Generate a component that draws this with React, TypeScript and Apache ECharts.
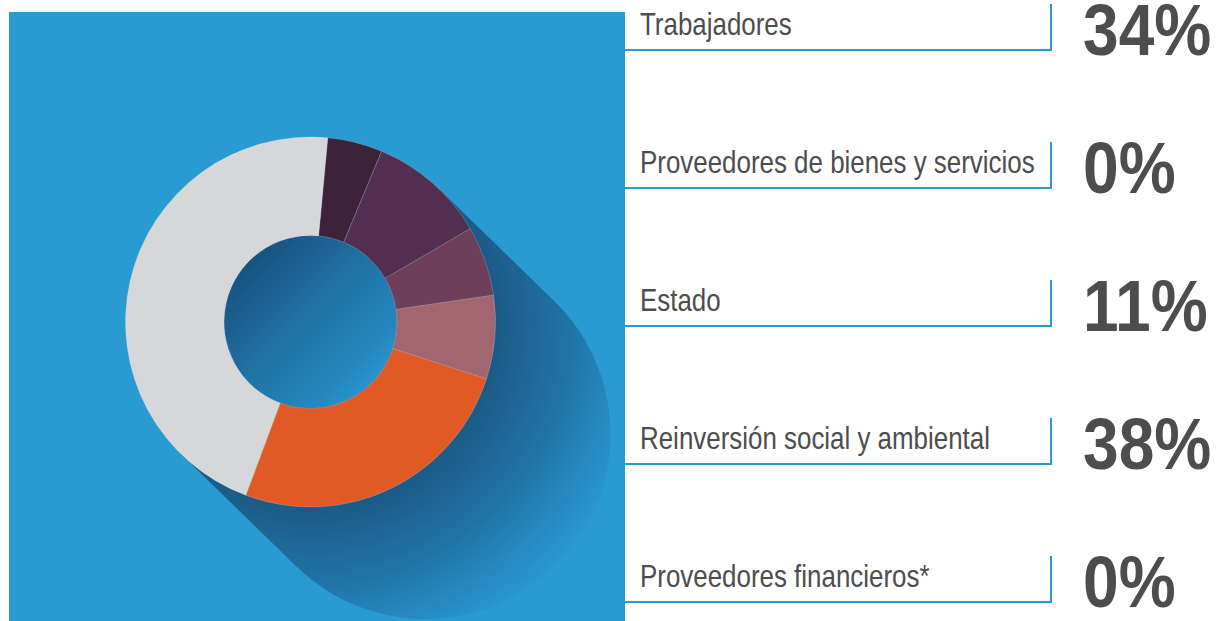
import React, { useEffect, useRef } from "react";
import * as echarts from "echarts";

// ---- Data ----
const sliceNames = ["Segmento A", "Segmento B", "Segmento C", "Segmento D", "Segmento E", "Segmento F"];
const sliceValues = [4.8, 10.3, 6.1, 7.3, 25.7, 45.8];
const sliceColors = ["#3d2339", "#522f51", "#6d3f5a", "#a16670", "#e05a25", "#d6d7d9"];

const legendLabels = [
  "Trabajadores",
  "Proveedores de bienes y servicios",
  "Estado",
  "Reinversión social y ambiental",
  "Proveedores financieros*",
];
const legendPercents = [34, 0, 11, 38, 0];

// ---- Layout / style ----
const W = 1218;
const H = 621;
const BLUE = "#2a9ad3";
const CX = 310.5;
const CY = 322;
const R_OUT = 185;
const R_IN = 86.5;
const SH_DX = 115;
const SH_DY = 112;
const LABEL_FONT = '"Liberation Sans", Arial, Helvetica, sans-serif';
const TEXT_COLOR = "#4d4d4d";

export default function App() {
  const ref = useRef<HTMLDivElement>(null);

  useEffect(() => {
    if (!ref.current) return;
    const chart = echarts.init(ref.current, null, { renderer: "svg" });

    // shadow geometry
    const len = Math.hypot(SH_DX, SH_DY);
    const px = SH_DY / len;
    const py = -SH_DX / len;
    const tr = [CX + R_OUT * px, CY + R_OUT * py];
    const bl = [CX - R_OUT * px, CY - R_OUT * py];
    const shadowFill = new echarts.graphic.RadialGradient(
      CX,
      CY,
      350,
      [
        { offset: 0, color: "#17507c" },
        { offset: 0.5, color: "#1a5784" },
        { offset: 0.6, color: "#1d6391" },
        { offset: 0.75, color: "#2174a8" },
        { offset: 0.88, color: "#2689c0" },
        { offset: 1, color: BLUE },
      ],
      true
    );

    const graphics: any[] = [
      { type: "rect", z: 0, silent: true, shape: { x: 9, y: 12, width: 616, height: H - 12 }, style: { fill: BLUE } },
      {
        type: "polygon",
        z: 1,
        silent: true,
        shape: {
          points: [
            tr,
            [tr[0] + SH_DX, tr[1] + SH_DY],
            [bl[0] + SH_DX, bl[1] + SH_DY],
            bl,
          ],
        },
        style: { fill: shadowFill },
      },
      {
        type: "circle",
        z: 1,
        silent: true,
        shape: { cx: CX + SH_DX, cy: CY + SH_DY, r: R_OUT },
        style: { fill: shadowFill },
      },
      {
        type: "circle",
        z: 2,
        silent: true,
        shape: { cx: CX, cy: CY, r: R_IN },
        style: {
          fill: new echarts.graphic.LinearGradient(0, 0, 1, 1, [
            { offset: 0, color: "#164a75" },
            { offset: 0.15, color: "#185380" },
            { offset: 0.45, color: "#1f70a2" },
            { offset: 0.75, color: "#2587be" },
            { offset: 0.85, color: "#2894cd" },
            { offset: 1, color: BLUE },
          ]),
        },
      },
    ];

    legendLabels.forEach((label, i) => {
      const uy = 50 + i * 138;
      graphics.push(
        {
          type: "polyline",
          z: 3,
          silent: true,
          shape: { points: [[625, uy], [1051, uy], [1051, uy - 46]] },
          style: { stroke: BLUE, lineWidth: 2, fill: null },
        },
        {
          type: "text",
          z: 3,
          silent: true,
          x: 640,
          y: uy - 25.5,
          scaleX: 0.81,
          style: {
            text: label,
            fontSize: 32,
            lineHeight: 34,
            fontFamily: LABEL_FONT,
            fill: TEXT_COLOR,
            align: "left",
            verticalAlign: "middle",
          },
        },
        {
          type: "text",
          z: 3,
          silent: true,
          x: 1083,
          y: uy - 20,
          scaleX: 0.89,
          style: {
            text: legendPercents[i] + "%",
            fontSize: 72,
            lineHeight: 54,
            fontWeight: "bold",
            fontFamily: LABEL_FONT,
            fill: TEXT_COLOR,
            align: "left",
            verticalAlign: "middle",
          },
        }
      );
    });

    chart.setOption({
      animation: false,
      backgroundColor: "#ffffff",
      graphic: { elements: graphics },
      series: [
        {
          type: "pie",
          z: 10,
          silent: true,
          center: [CX, CY],
          radius: [R_IN, R_OUT],
          startAngle: 84.65,
          clockwise: true,
          label: { show: false },
          labelLine: { show: false },
          emphasis: { disabled: true },
          itemStyle: { borderColor: "rgba(255,255,255,0.3)", borderWidth: 0.6 },
          data: sliceNames.map((n, i) => ({
            name: n,
            value: sliceValues[i],
            itemStyle: { color: sliceColors[i] },
          })),
        },
      ],
    });

    return () => chart.dispose();
  }, []);

  return (
    <div
      ref={ref}
      style={{ position: "fixed", left: 0, top: 0, width: W, height: H }}
    />
  );
}
